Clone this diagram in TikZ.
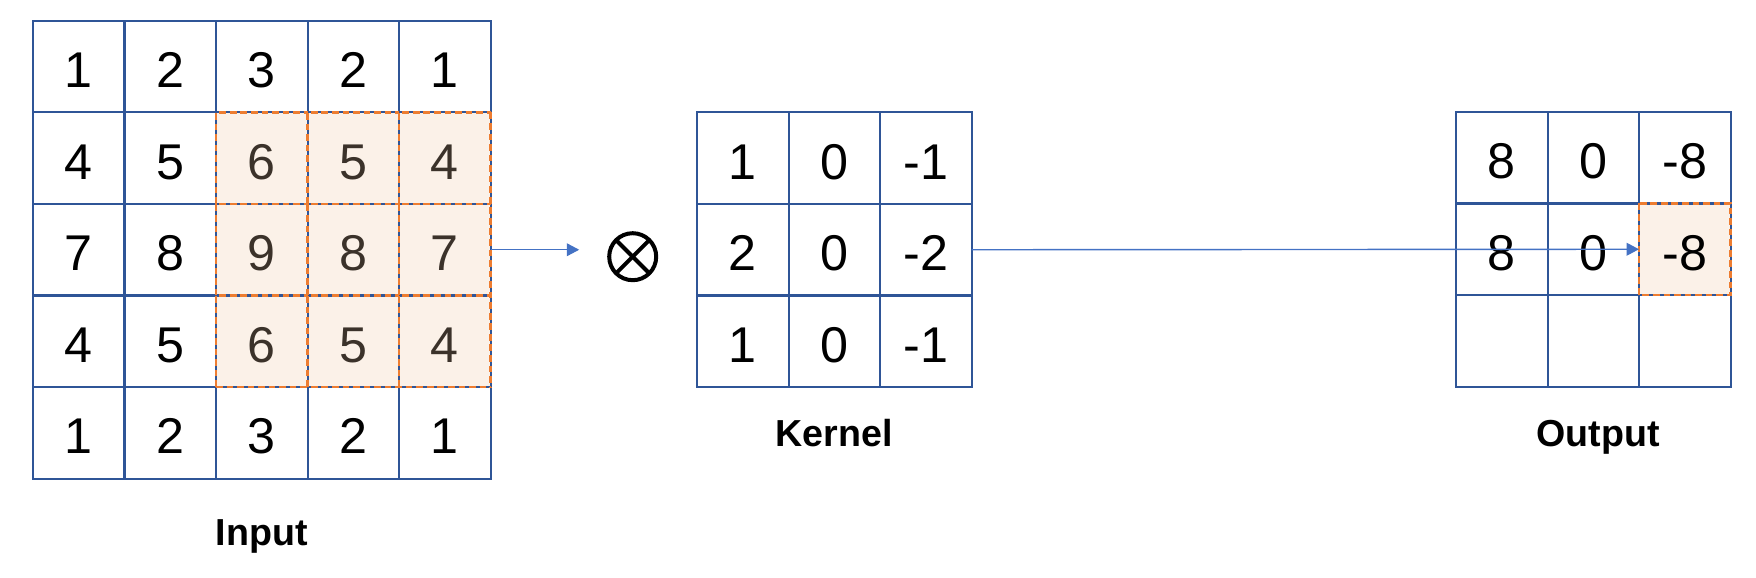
\documentclass[tikz,border=0pt]{standalone}
\usepackage{fontspec}
\setmainfont{Liberation Sans}
\usetikzlibrary{arrows.meta,positioning}

\definecolor{gridblue}{RGB}{47,85,151}
\definecolor{hlfill}{RGB}{251,241,232}
\definecolor{hlorange}{RGB}{237,125,49}
\definecolor{hltext}{RGB}{59,50,42}
\definecolor{arrowblue}{RGB}{68,114,196}

\tikzset{
	cell/.style={draw=gridblue, line width=0.57pt, minimum size=0.915cm, inner sep=0pt, outer sep=0pt,
		text height=0.42cm, font=\fontsize{14.3}{17}\selectfont},
	hlcell/.style={cell, fill=hlfill},
	inhl/.style={hlcell, text=hltext},
	hlbox/.style={draw=hlorange, line width=0.68pt, dash pattern=on 1.9pt off 1.1pt},
	conn/.style={draw=arrowblue, line width=0.4pt, -{Triangle[length=3.5pt,width=3.6pt]}},
	caption/.style={inner sep=0pt, font=\bfseries\fontsize{10.7}{13}\selectfont},
}

\begin{document}
\begin{tikzpicture}
				\useasboundingbox (0,0) rectangle (17.56,5.77);
				
				% input
				\foreach \row [count=\r] in {{1,2,3,2,1},{4,5,6,5,4},{7,8,9,8,7},{4,5,6,5,4},{1,2,3,2,1}}{
					\foreach \v [count=\c] in \row {
						\def\kind{cell}
						\ifnum\r>1 \ifnum\r<5 \ifnum\c>2 \def\kind{inhl}\fi\fi\fi
						\node[\kind] (in-\r-\c) at ({0.33+0.915*(\c-0.5)},{5.56-0.915*(\r-0.5)}) {\v};
					}
				}
				\foreach \r in {2,3,4}
					\foreach \c in {3,4,5}
						\draw[hlbox] (in-\r-\c.south west) -- (in-\r-\c.north west) -- (in-\r-\c.north east);
				\draw[hlbox] (in-4-3.south west) -- (in-4-5.south east);
				\draw[hlbox] (in-2-5.north east) -- (in-4-5.south east);
				\node[caption] (inputcap) [below=0.4cm of in-5-3] {Input};
				
				% operator
				\node[circle, draw, line width=1.14pt, minimum size=0.47cm, inner sep=0pt, outer sep=0pt] (op) at (6.327,3.203) {};
				\draw[line width=1.14pt] (op.north west) -- (op.south east);
				\draw[line width=1.14pt] (op.north east) -- (op.south west);
				
				% kernel
				\foreach \row [count=\r] in {{1,0,-1},{2,0,-2},{1,0,-1}}{
					\foreach \v [count=\c] in \row
						\node[cell] (k-\r-\c) at ({6.97+0.915*(\c-0.5)},{4.645-0.915*(\r-0.5)}) {\v};
				}
				\node[caption] (kernelcap) [below=0.32cm of k-3-2] {Kernel};
				
				% output
				\foreach \row [count=\r] in {{8,0,-8},{8,0,-8},{{},{},{}}}{
					\foreach \v [count=\c] in \row {
						\def\kind{cell}
						\ifnum\r=2 \ifnum\c=3 \def\kind{hlcell}\fi\fi
						\node[\kind] (out-\r-\c) at ({14.56+0.915*(\c-0.5)},{4.65-0.915*(\r-0.5)}) {\v};
					}
				}
				\draw[hlbox] (out-2-3.north west) rectangle (out-2-3.south east);
				\node[caption, xshift=0.05cm] (outputcap) [below=0.33cm of out-3-2] {Output};
				
				\draw[conn, shorten >=0.3cm] (in-3-5.east) -- (in-3-5.east -| op.west);
				\draw[conn] (k-2-3.east) -- (out-2-3.west);
			\end{tikzpicture}
\end{document}
